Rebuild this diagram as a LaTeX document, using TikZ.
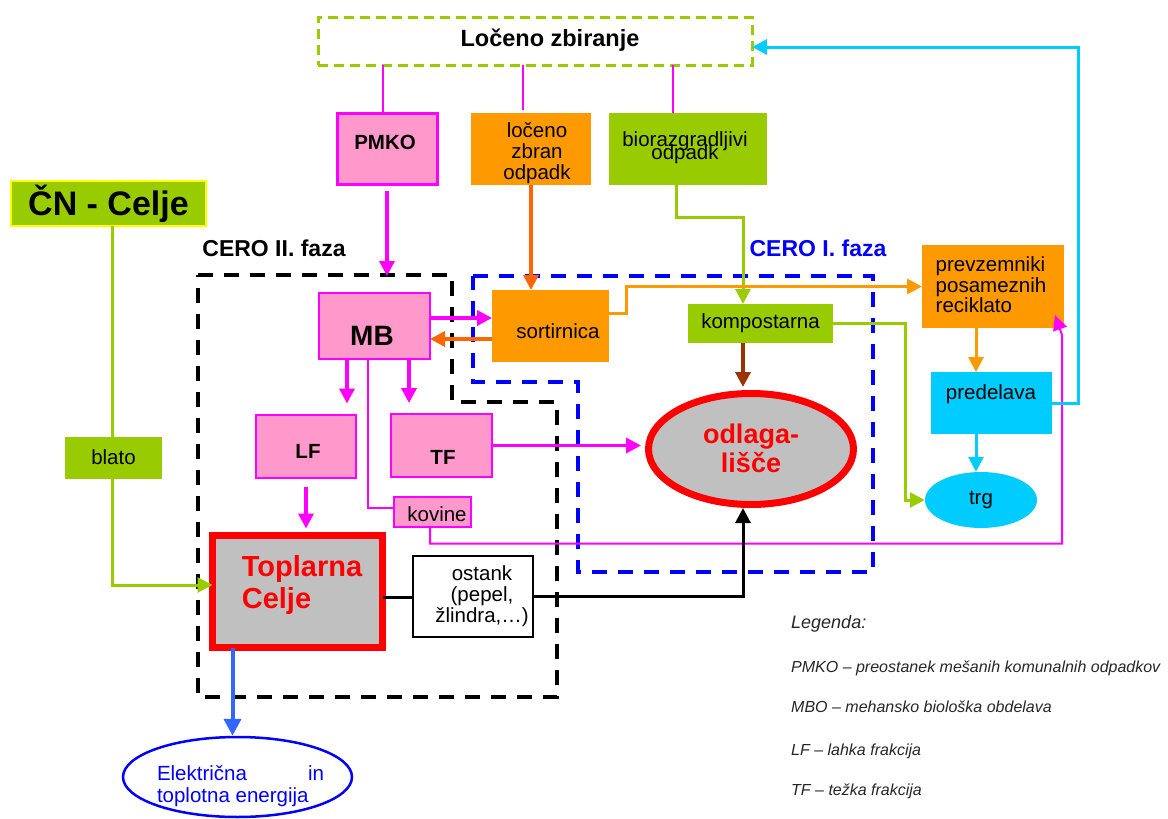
\documentclass[tikz,border=0pt]{standalone}
\usepackage{fontspec}
\setmainfont{Liberation Sans}
\usetikzlibrary{arrows.meta,shapes.geometric}
\definecolor{mag}{HTML}{FF00FF}
\definecolor{pinkf}{HTML}{FF99CC}
\definecolor{orng}{HTML}{FF9900}
\definecolor{dorng}{HTML}{FF6600}
\definecolor{grn}{HTML}{99CC00}
\definecolor{cyn}{HTML}{00CCFF}
\definecolor{blu}{HTML}{0000FF}
\definecolor{brn}{HTML}{993300}
\definecolor{gry}{HTML}{C0C0C0}
\definecolor{eblue}{HTML}{3366FF}
\definecolor{ylw}{HTML}{FFFF00}
\newcommand{\myfs}[2]{\fontsize{#1}{#2}\selectfont\lineskiplimit=-100pt\relax}
\tikzset{
  bx/.style={rectangle, inner sep=0pt, outer sep=0pt},
  pinkbx/.style={bx, draw=mag, fill=pinkf, line width=2pt},
  fillbx/.style={bx, draw=none, fill=#1},
  txt/.style={inner sep=0pt, outer sep=0pt, align=center, font=\myfs{20.5}{21}},
  arr/.style={-{Triangle[length=15pt,width=15pt]}},
  magthick/.style={mag, line width=3.5pt, arr},
  magthin/.style={mag, line width=2pt},
  orgthick/.style={orng, line width=3pt, arr},
  dorgthick/.style={dorng, line width=3.5pt, arr},
  orgthin/.style={orng, line width=3pt, arr},
  grnline/.style={grn, line width=3pt},
  brnthick/.style={brn, line width=3.5pt, arr},
  blkline/.style={black, line width=3pt},
  cynline/.style={cyn, line width=3pt},
  legtxt/.style={anchor=base west, inner sep=0pt, text=black!85, font=\itshape\myfs{16}{18}}
}
\begin{document}
\begin{tikzpicture}[x=1pt,y=-1pt]
\useasboundingbox (0,0) rectangle (1168,819);
% regions
\draw[black, line width=3.5pt, dash pattern=on 15pt off 11pt] (198,275) -- (452,275) -- (452,402) -- (557,402) -- (557,697) -- (198,697) -- cycle;
\draw[blu, line width=3.5pt, dash pattern=on 15pt off 11pt] (473,276) -- (873,276) -- (873,572) -- (578,572) -- (578,382) -- (473,382) -- cycle;

% nodes
\node[bx, draw=grn, line width=3pt, dash pattern=on 10pt off 6pt, minimum width=434, minimum height=48] (zbir) at (535,41) {};
\node[txt, font=\bfseries\myfs{23.5}{25}] (tzbir) at (550,40) {Ločeno zbiranje};

\node[pinkbx, line width=3pt, minimum width=100, minimum height=71] (pmko) at (387,148.5) {};
\node[txt, font=\bfseries\myfs{20.5}{21}] (tpmko) at (385,142) {PMKO};

\node[fillbx=orng, minimum width=120, minimum height=72] (locz) at (531,149) {};
\node[txt] (tlocz) at (537,153) {ločeno\\zbran\\odpadk};

\node[fillbx=grn, minimum width=158, minimum height=72] (bio) at (688,149) {};
\node[txt, font=\myfs{20.5}{13}] (tbio) at (685,148) {biorazgradljivi\\odpadk};

\node[bx, draw=ylw, line width=2pt, fill=grn, minimum width=195, minimum height=45, font=\bfseries\myfs{34}{36}] (cn) at (108.5,203.5) {ČN - Celje};

\node[txt, font=\bfseries\myfs{23}{25}] (cero2) at (274,248) {CERO II. faza};
\node[txt, text=blu, font=\bfseries\myfs{23}{25}] (cero1) at (818,248) {CERO I. faza};

\node[pinkbx, minimum width=111, minimum height=66] (mb) at (374.5,326) {};
\node[txt, font=\bfseries\myfs{28}{30}] (tmb) at (372,336) {MB};

\node[fillbx=orng, minimum width=117, minimum height=72] (sort) at (550.5,326) {};
\node[txt] (tsort) at (558,331) {sortirnica};

\node[fillbx=grn, minimum width=145, minimum height=39, font=\myfs{20.5}{21}] (komp) at (760.5,323.5) {kompostarna};

\node[ellipse, draw=red, line width=7pt, fill=gry, minimum width=205, minimum height=111, inner sep=0pt] (odl) at (751,449) {};
\node[txt, text=red, font=\bfseries\myfs{27}{29}] (todl) at (751,448) {odlaga-\\lišče};

\node[pinkbx, minimum width=100, minimum height=63] (lf) at (306,446) {};
\node[txt, font=\bfseries\myfs{20.5}{21}] (tlf) at (308,451) {LF};
\node[pinkbx, minimum width=101, minimum height=63] (tf) at (441.5,445.5) {};
\node[txt, font=\bfseries\myfs{20.5}{21}] (ttf) at (443,457) {TF};
\node[pinkbx, minimum width=77, minimum height=30] (kov) at (432,511.5) {};
\node[txt] (tkov) at (437,514) {kovine};

\node[bx, draw=red, line width=7pt, fill=gry, minimum width=170, minimum height=112] (top) at (297.5,591.5) {};
\node[txt, align=left, text=red, font=\bfseries\myfs{29}{32}] (ttop) at (302,585) {Toplarna\\Celje};

\node[bx, draw=black, line width=2.5pt, fill=white, minimum width=120, minimum height=81] (ost) at (473,596.5) {};
\node[txt] (tost) at (482,596) {ostank\\(pepel,\\žlindra,…)};

\node[fillbx=grn, minimum width=97, minimum height=42, font=\myfs{20.5}{21}] (blato) at (113.5,457.5) {blato};

\node[ellipse, draw=blu, line width=2.5pt, fill=white, minimum width=229, minimum height=80, inner sep=0pt] (elek) at (237.5,777) {};
\node[txt, align=left, text=blu, font=\myfs{20.5}{22}] (telek) at (240.5,786) {\makebox[167pt][s]{Električna\hfill in}\\toplotna energija};

\node[fillbx=orng, minimum width=142, minimum height=83] (prev) at (993,286.5) {};
\node[txt, align=left, font=\myfs{20.5}{20.5}] (tprev) at (991,285) {prevzemniki\\posameznih\\reciklato};
\node[fillbx=cyn, minimum width=121, minimum height=62] (pred) at (991.5,403) {};
\node[txt] (tpred) at (991,394) {predelava};
\node[ellipse, fill=cyn, minimum width=112, minimum height=56, inner sep=0pt, font=\myfs{20.5}{21}] (trg) at (981,500) {trg};

% legend
\node[legtxt, font=\itshape\myfs{18}{20}] (leg0) at (791,628) {Legenda:};
\node[legtxt] (leg1) at (791,672) {PMKO – preostanek mešanih komunalnih odpadkov};
\node[legtxt] (leg2) at (791,712) {MBO – mehansko biološka obdelava};
\node[legtxt] (leg3) at (791,755) {LF – lahka frakcija};
\node[legtxt] (leg4) at (791,795) {TF – težka frakcija};

% connectors
\draw[magthin] ([xshift=-4pt]pmko.north) -- ([xshift=-4pt]pmko.north |- zbir.south);
\draw[magthin, shorten <=3pt] ([xshift=-8pt]locz.north) -- ([xshift=-8pt]locz.north |- zbir.south);
\draw[magthin] ([xshift=-15pt]bio.north) -- ([xshift=-15pt]bio.north |- zbir.south);

\draw[magthick, shorten <=7pt, shorten >=17pt] (pmko.south) -- (pmko.south |- mb.north);
\draw[dorgthick] (locz.south) -- (locz.south |- sort.north);
\draw[grnline, arr] ([xshift=-12pt]bio.south) -- ++(0,32) -| ([xshift=-17.5pt]komp.north);

\draw[magthick] ([yshift=8pt]mb.east) -- ([yshift=8pt]mb.east -| sort.west);
\draw[dorgthick] ([yshift=-13pt]sort.west) -- ([yshift=-13pt]sort.west -| mb.east);
\draw[orgthin] ([yshift=13pt]sort.east) -- ++(17,0) |- (prev.west);

\draw[brnthick, shorten >=3pt] ([xshift=-17.5pt]komp.south) -- ([xshift=-17.5pt]komp.south |- odl.north);
\draw[grnline, arr] (komp.east) -- ++(72,0) |- (trg.west);

\draw[magthick, shorten >=11pt] ([xshift=-27.5pt]mb.south) -- ([xshift=-27.5pt]mb.south |- lf.north);
\draw[magthick, shorten >=11pt] ([xshift=34.5pt]mb.south) -- ([xshift=34.5pt]mb.south |- tf.north);
\draw[magthin] ([xshift=-6.5pt]mb.south) |- ([yshift=4pt]kov.west);

\draw[magthick, shorten >=4pt] (tf.east) -- (tf.east -| odl.west);

\draw[magthin, -{Triangle[length=15pt,width=14pt]}] ([xshift=-2pt]kov.south) -- ++(0,17) -| ([xshift=-2pt,yshift=-7pt]prev.south east) -- ([xshift=-9pt,yshift=13pt]prev.south east);

\draw[magthick, shorten <=9pt, shorten >=7pt] (lf.south) -- (lf.south |- top.north);

\draw[blkline] ([yshift=-5.5pt]top.east) -- ([yshift=-5.5pt]top.east -| ost.west);
\draw[blkline, arr] (ost.east) -| ([xshift=-8pt]odl.south);

\draw[grnline] ([xshift=-1.5pt]blato.north |- cn.south) -- ([xshift=-1.5pt]blato.north);
\draw[grnline, arr] ([xshift=-1.5pt]blato.south) |- ([yshift=6.5pt]top.west);

\draw[eblue, line width=4pt, -{Triangle[length=17pt,width=17pt]}] ([xshift=-65pt]top.south) -- ([xshift=-65pt]top.south |- elek.north);

\draw[orgthick] ([xshift=-17pt]prev.south) -- ([xshift=-17pt]prev.south |- pred.north);
\draw[cynline, arr] ([xshift=-15.5pt]pred.south) -- ([xshift=-15.5pt]pred.south |- trg.north);
\draw[cynline, arr] (pred.east) -- ++(26,0) |- ([yshift=-6pt]zbir.east);
\end{tikzpicture}
\end{document}
